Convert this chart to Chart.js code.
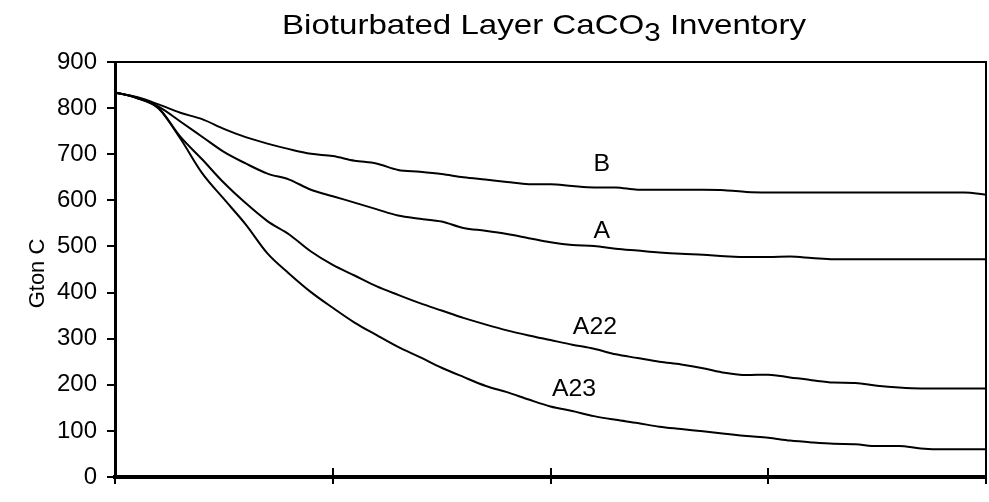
<!DOCTYPE html>
<html>
<head>
<meta charset="utf-8">
<script src="https://cdn.jsdelivr.net/npm/chart.js@4/dist/chart.umd.min.js"></script>
<style>
  html, body { margin: 0; padding: 0; background: #fff; }
  #wrap { width: 989px; height: 502px; }
</style>
</head>
<body>
<div id="wrap"><canvas id="chart"></canvas></div>
<script>
// time axis (no labels shown in the original), 0..100
const xs = [0, 2.5, 5, 7.5, 10, 12.5, 15, 17.5, 20, 22.5, 25, 27.5, 30, 32.5, 35, 37.5, 40, 42.5, 45, 47.5,
            50, 52.5, 55, 57.5, 60, 62.5, 65, 67.5, 70, 72.5, 75, 77.5, 80, 82.5, 85, 87.5, 90, 92.5, 95, 97.5, 100];

// Gton C
const seriesB = [834, 824, 808, 790, 776, 755, 737, 723, 711, 701, 696, 686, 680, 666, 662, 657, 650, 645, 640, 635,
                 635, 631, 628, 628, 623, 623, 623, 623, 622, 618, 617, 617, 617, 617, 617, 617, 617, 617, 617, 617, 612];
const seriesA = [834, 823, 803, 771, 738, 705, 680, 658, 645, 623, 609, 595, 581, 567, 560, 554, 540, 534, 527, 518,
                 509, 503, 501, 495, 491, 487, 484, 482, 479, 477, 477, 478, 475, 472, 472, 472, 472, 472, 472, 472, 472];
const seriesA22 = [834, 822, 800, 738, 689, 638, 594, 555, 526, 489, 460, 437, 414, 395, 377, 361, 345, 331, 318, 307,
                   297, 287, 278, 266, 258, 250, 244, 236, 226, 221, 222, 216, 210, 205, 204, 198, 194, 192, 192, 192, 192];
const seriesA23 = [834, 822, 799, 734, 659, 603, 548, 485, 441, 401, 367, 335, 308, 282, 260, 237, 217, 198, 184, 168,
                   153, 143, 132, 124, 117, 109, 104, 99, 94, 89, 85, 79, 75, 72, 71, 67, 67, 62, 60, 60, 60];

const seriesNames = ['B', 'A', 'A22', 'A23'];
// where each curve's name sits, in data units
const labelX = [55.9, 55.9, 55.1, 52.7];
const labelY = [679, 534, 325, 192];

const yTicks = [0, 100, 200, 300, 400, 500, 600, 700, 800, 900];
const xTicks = [0, 25, 50, 75, 100];

const FONT = 'Arial, "Liberation Sans", sans-serif';

function pts(ys) {
    return xs.map((x, i) => ({ x: x, y: ys[i] }));
}

const allSeries = [seriesB, seriesA, seriesA22, seriesA23];

const decorations = {
    id: 'decorations',
    afterDraw(chart) {
        const ctx = chart.ctx;
        const area = chart.chartArea;
        const xScale = chart.scales.x;
        const yScale = chart.scales.y;
        ctx.save();

        // top and right frame
        ctx.strokeStyle = '#000';
        ctx.lineWidth = 2;
        ctx.beginPath();
        ctx.moveTo(area.left, area.top);
        ctx.lineTo(area.right, area.top);
        ctx.lineTo(area.right, area.bottom);
        ctx.stroke();

        // x ticks crossing the axis
        xTicks.forEach(v => {
            const px = Math.round(xScale.getPixelForValue(v));
            ctx.beginPath();
            ctx.moveTo(px, area.bottom - 9);
            ctx.lineTo(px, area.bottom + 7);
            ctx.stroke();
        });

        // title with subscript
        ctx.fillStyle = '#000';
        ctx.textBaseline = 'alphabetic';
        const big = '28px ' + FONT;
        const small = '25px ' + FONT;
        const p1 = 'Bioturbated Layer CaCO';
        const p2 = '3';
        const p3 = ' Inventory';
        ctx.font = big;
        const w1 = ctx.measureText(p1).width;
        const w3 = ctx.measureText(p3).width;
        ctx.font = small;
        const w2 = ctx.measureText(p2).width;
        const total = w1 + w2 + w3;
        const sx = 524 / total;
        ctx.save();
        ctx.translate(544 - 262, 34);
        ctx.scale(sx, 1);
        ctx.font = big;
        ctx.fillText(p1, 0, 0);
        ctx.font = small;
        ctx.fillText(p2, w1, 7);
        ctx.font = big;
        ctx.fillText(p3, w1 + w2, 0);
        ctx.restore();

        // y axis title
        ctx.save();
        ctx.translate(44, (area.top + area.bottom) / 2 + 4);
        ctx.rotate(-Math.PI / 2);
        ctx.textAlign = 'center';
        ctx.textBaseline = 'alphabetic';
        ctx.font = '22px ' + FONT;
        ctx.fillText('Gton C', 0, 0);
        ctx.restore();

        // curve names
        ctx.font = '23px ' + FONT;
        ctx.textAlign = 'center';
        ctx.textBaseline = 'middle';
        seriesNames.forEach((n, i) => {
            ctx.save();
            ctx.translate(xScale.getPixelForValue(labelX[i]), yScale.getPixelForValue(labelY[i]));
            ctx.scale(1.08, 1);
            ctx.fillText(n, 0, 1);
            ctx.restore();
        });

        ctx.restore();
    }
};

new Chart(document.getElementById('chart'), {
    type: 'line',
    data: {
        datasets: allSeries.map((s, i) => ({
            label: seriesNames[i],
            data: pts(s),
            borderColor: '#000',
            borderWidth: 2,
            pointRadius: 0,
            cubicInterpolationMode: 'monotone',
            fill: false
        }))
    },
    options: {
        responsive: true,
        maintainAspectRatio: false,
        animation: false,
        events: [],
        layout: { padding: { top: 62, right: 3, left: 0, bottom: 0 } },
        plugins: {
            legend: { display: false },
            title: { display: false },
            tooltip: { enabled: false }
        },
        scales: {
            x: {
                type: 'linear',
                min: 0,
                max: 100,
                ticks: { display: false, stepSize: 25 },
                grid: { display: false },
                border: { display: true, color: '#000', width: 4 },
                afterFit(scale) { scale.height = 25; }
            },
            y: {
                min: 0,
                max: 900,
                afterBuildTicks(scale) { scale.ticks = yTicks.map(v => ({ value: v })); },
                ticks: {
                    color: '#000',
                    padding: 10,
                    font: { family: FONT, size: 24 }
                },
                grid: {
                    drawOnChartArea: false,
                    drawTicks: true,
                    tickLength: 8,
                    color: '#000',
                    lineWidth: 2
                },
                border: { display: true, color: '#000', width: 3 },
                afterFit(scale) { scale.width = 115; }
            }
        }
    },
    plugins: [decorations]
});
</script>
</body>
</html>
